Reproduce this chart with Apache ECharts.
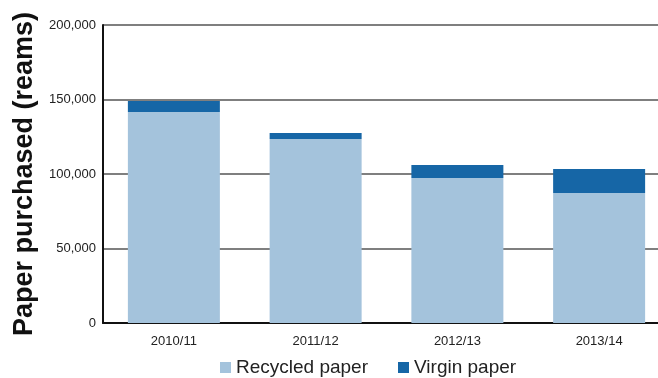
<!DOCTYPE html>
<html>
<head>
<meta charset="utf-8">
<script src="https://cdn.jsdelivr.net/npm/echarts@6/dist/echarts.min.js"></script>
<style>
  html, body { margin: 0; padding: 0; background: #fff; }
  #chart { width: 658px; height: 378px; }
</style>
</head>
<body>
<div id="chart"></div>
<script>
// Paper purchased per financial year, in reams
const years = ['2010/11', '2011/12', '2012/13', '2013/14'];
const recycled = [141600, 123500, 97300, 87200];
const virgin = [7400, 4000, 8700, 16100];
const yTicks = [0, 50000, 100000, 150000, 200000];

const FONT = '"Liberation Sans", Arial, Helvetica, sans-serif';
const chart = echarts.init(document.getElementById('chart'), null, { renderer: 'canvas' });

chart.setOption({
  animation: false,
  textStyle: { fontFamily: FONT },
  // plot area runs past the right edge of the canvas
  grid: { left: 103, top: 25, width: 567, height: 298, containLabel: false, outerBoundsMode: 'none' },
  legend: {
    left: 215,
    top: 353,
    icon: 'rect',
    itemWidth: 11,
    itemHeight: 11,
    itemGap: 30,
    textStyle: { fontSize: 19, color: '#222', fontFamily: FONT },
    data: ['Recycled paper', 'Virgin paper']
  },
  xAxis: {
    type: 'category',
    data: years,
    axisLine: { show: true, lineStyle: { color: '#111', width: 2 } },
    axisTick: { show: false },
    axisLabel: { color: '#222', fontSize: 13, margin: 12, fontFamily: FONT }
  },
  yAxis: {
    type: 'value',
    min: yTicks[0],
    max: yTicks[yTicks.length - 1],
    interval: 50000,
    name: 'Paper purchased (reams)',
    nameLocation: 'middle',
    nameRotate: 90,
    nameGap: 64,
    nameTextStyle: { fontSize: 27, fontWeight: 'bold', color: '#111', fontFamily: FONT },
    axisLine: { show: true, lineStyle: { color: '#111', width: 2 } },
    axisTick: { show: false },
    splitLine: { show: true, lineStyle: { color: '#7f7f7f', width: 2 } },
    axisLabel: {
      color: '#222',
      fontSize: 13,
      margin: 7,
      fontFamily: FONT,
      formatter: v => v.toLocaleString('en-US')
    }
  },
  series: [
    {
      name: 'Recycled paper',
      type: 'bar',
      stack: 'paper',
      barWidth: 92,
      itemStyle: { color: '#a4c3dc' },
      data: recycled
    },
    {
      name: 'Virgin paper',
      type: 'bar',
      stack: 'paper',
      barWidth: 92,
      itemStyle: { color: '#1666a6' },
      data: virgin
    }
  ]
});
</script>
</body>
</html>
